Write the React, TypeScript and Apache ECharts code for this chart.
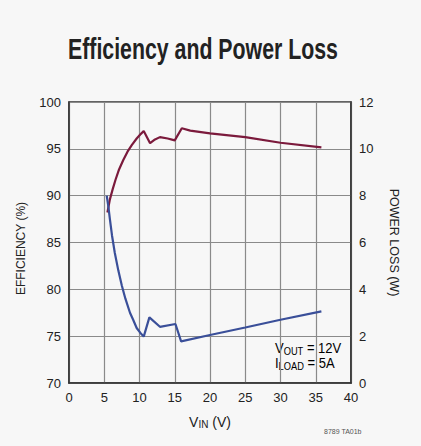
import React, { useEffect, useRef } from "react";
import * as echarts from "echarts";

const FONT = '"Liberation Sans", Arial, sans-serif';

const xTicks = { min: 0, max: 40, interval: 5 };
const effTicks = { min: 70, max: 100, interval: 5 };
const lossTicks = { min: 0, max: 12, interval: 2 };

// Efficiency (%) vs VIN (V)
const efficiency: [number, number][] = [
  [5.45, 88.2], [5.8, 89.6], [6.2, 90.7], [6.6, 91.7], [7.1, 92.8], [7.7, 93.8],
  [8.3, 94.7], [8.9, 95.4], [9.6, 96.1], [10.2, 96.6], [10.6, 96.9], [11.5, 95.6],
  [12.2, 96.0], [12.9, 96.25], [14.0, 96.1], [15.0, 95.9], [16.0, 97.2], [17.2, 96.95],
  [20, 96.65], [25, 96.25], [30, 95.65], [35.8, 95.15],
];

// Power loss (W) vs VIN (V)
const powerLoss: [number, number][] = [
  [5.35, 8.0], [5.6, 7.5], [5.8, 7.0], [6.1, 6.3], [6.5, 5.55], [7.0, 4.8],
  [7.5, 4.15], [8.0, 3.6], [8.65, 3.0], [9.1, 2.7], [9.6, 2.35], [10.1, 2.15],
  [10.6, 1.98], [11.4, 2.8], [12.9, 2.4], [15.1, 2.52], [15.9, 1.78], [20, 2.05],
  [25, 2.37], [30, 2.7], [35.8, 3.06],
];

const titleText = "Efficiency and Power Loss";
const leftAxisName = "EFFICIENCY (%)";
const rightAxisName = "POWER LOSS (W)";
const noteLines = [
  { main: "V", sub: "OUT", rest: " = 12V" },
  { main: "I", sub: "LOAD", rest: " = 5A" },
];
const figureCode = "8789 TA01b";

export default function App() {
  const ref = useRef<HTMLDivElement>(null);
  useEffect(() => {
    if (!ref.current) return;
    const chart = echarts.init(ref.current, undefined, { renderer: "svg" });
    const labelStyle = { color: "#222", fontFamily: FONT, fontSize: 13 };
    const rich = {
      v: { fontFamily: FONT, fontSize: 14, color: "#222" },
      s: { fontFamily: FONT, fontSize: 10, color: "#222", padding: [5, 0, 0, 0] },
    };
    chart.setOption({
      animation: false,
      backgroundColor: "#f7f7f7",
      grid: {
        left: 69,
        right: 70,
        top: 102,
        bottom: 63,
        show: true,
        borderColor: "#333",
        borderWidth: 1.5,
        backgroundColor: "transparent",
      },
      xAxis: {
        type: "value",
        ...xTicks,
        axisLine: { show: true, lineStyle: { color: "#333", width: 1.5 } },
        axisTick: { show: false },
        axisLabel: { ...labelStyle, margin: 8 },
        splitLine: { show: true, lineStyle: { color: "#8a8a8a", width: 1.2 } },
        name: "{v|V}{s|IN}{v| (V)}",
        nameLocation: "middle",
        nameGap: 31,
        nameTextStyle: { rich },
      },
      yAxis: [
        {
          type: "value",
          ...effTicks,
          axisLine: { show: true, lineStyle: { color: "#333", width: 1.5 } },
          axisTick: { show: false },
          axisLabel: { ...labelStyle, margin: 8 },
          splitLine: { show: true, lineStyle: { color: "#8a8a8a", width: 1.2 } },
          name: leftAxisName,
          nameLocation: "middle",
          nameGap: 42,
          nameTextStyle: { fontFamily: FONT, fontSize: 12, color: "#222", padding: [0, 12, 0, 0] },
        },
        {
          type: "value",
          position: "right",
          ...lossTicks,
          axisLine: { show: true, lineStyle: { color: "#333", width: 1.5 } },
          axisTick: { show: false },
          axisLabel: { ...labelStyle, margin: 8 },
          splitLine: { show: false },
          name: rightAxisName,
          nameLocation: "middle",
          nameRotate: -90,
          nameGap: 36,
          nameTextStyle: { fontFamily: FONT, fontSize: 12.5, color: "#222" },
        },
      ],
      series: [
        {
          type: "line",
          name: "Efficiency",
          yAxisIndex: 0,
          data: efficiency,
          showSymbol: false,
          smooth: false,
          lineStyle: { color: "#7b1a3c", width: 2.2 },
          itemStyle: { color: "#7b1a3c" },
        },
        {
          type: "line",
          name: "Power Loss",
          yAxisIndex: 1,
          data: powerLoss,
          showSymbol: false,
          smooth: false,
          lineStyle: { color: "#3a4f99", width: 2.2 },
          itemStyle: { color: "#3a4f99" },
        },
      ],
      graphic: [
        {
          type: "text",
          x: 68,
          y: 34,
          scaleX: 0.735,
          style: {
            text: titleText,
            fontFamily: FONT,
            fontWeight: "bold",
            fontSize: 29,
            fill: "#222",
          },
        },
        ...noteLines.map((ln, i) => ({
          type: "text",
          x: 275,
          y: 341 + i * 15,
          scaleX: 0.93,
          style: {
            text: `{v|${ln.main}}{s|${ln.sub}}{v|${ln.rest}}`,
            rich,
          },
        })),
        {
          type: "text",
          x: 324,
          y: 428,
          style: { text: figureCode, fontFamily: FONT, fontSize: 7, fill: "#555" },
        },
      ],
    });
    return () => chart.dispose();
  }, []);
  return (
    <div
      ref={ref}
      style={{ position: "fixed", left: 0, top: 0, width: 421, height: 446 }}
    />
  );
}
